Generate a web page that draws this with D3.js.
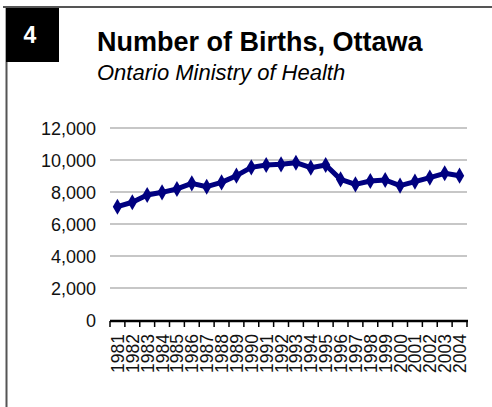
<!DOCTYPE html>
<html><head><meta charset="utf-8">
<script src="https://cdn.jsdelivr.net/npm/d3@7"></script>
<style>body{margin:0;background:#fff}svg{display:block}</style>
</head><body>
<script>
const years = ["1981","1982","1983","1984","1985","1986","1987","1988","1989","1990","1991","1992","1993","1994","1995","1996","1997","1998","1999","2000","2001","2002","2003","2004"];
const births = [7080,7360,7810,7980,8190,8540,8330,8600,9020,9540,9690,9730,9830,9520,9690,8790,8480,8690,8750,8400,8650,8900,9170,9020];
const yTicks = [0,2000,4000,6000,8000,10000,12000];
const title = "Number of Births, Ottawa";
const subtitle = "Ontario Ministry of Health";
const badge = "4";

const W = 492, H = 407;
const svg = d3.select("body").append("svg").attr("width", W).attr("height", H);
const font = "Liberation Sans, Arial, sans-serif";

// frame
svg.append("line").attr("x1",3).attr("x2",W).attr("y1",7).attr("y2",7).attr("stroke","#555").attr("stroke-width",2);
svg.append("line").attr("x1",6.5).attr("x2",6.5).attr("y1",7).attr("y2",H).attr("stroke","#555").attr("stroke-width",2);
svg.append("rect").attr("x",6).attr("y",8).attr("width",53).attr("height",54).attr("fill","#000");
svg.append("text").attr("x",30).attr("y",43).attr("text-anchor","middle").attr("fill","#fff")
  .attr("font-family",font).attr("font-weight","bold").attr("font-size",23).text(badge);
svg.append("text").attr("x",97).attr("y",51).attr("font-family",font).attr("font-weight","bold").attr("font-size",27).text(title);
svg.append("text").attr("x",97).attr("y",80).attr("font-family",font).attr("font-style","italic").attr("font-size",22).text(subtitle);

const x0 = 110, x1 = 467, yTop = 128, yBot = 320;
const x = d3.scaleBand().domain(years).range([x0, x1]).padding(0);
const y = d3.scaleLinear().domain([0, 12000]).range([yBot, yTop]);

// gridlines
svg.append("g").selectAll("line").data(yTicks.filter(d => d > 0)).join("line")
  .attr("x1", x0).attr("x2", x1).attr("y1", d => y(d)).attr("y2", d => y(d))
  .attr("stroke", "#b4b4b4").attr("stroke-width", 1.5);

// y labels
svg.append("g").selectAll("text").data(yTicks).join("text")
  .attr("x", 96).attr("y", d => y(d) + 6.5).attr("text-anchor", "end")
  .attr("font-family", font).attr("font-size", 18).attr("fill","#111")
  .text(d => d3.format(",")(d));

// x axis
const ax = svg.append("g").attr("transform", `translate(0,${yBot+1})`);
ax.append("line").attr("x1", x0).attr("x2", x1+1).attr("stroke","#000").attr("stroke-width",2.5);
const bounds = years.map(d => x(d)).concat([x1]);
ax.selectAll("line.t").data(bounds).join("line").attr("class","t")
  .attr("x1", d => d).attr("x2", d => d).attr("y1", 0).attr("y2", 6)
  .attr("stroke","#000").attr("stroke-width",1.5);
ax.selectAll("text").data(years).join("text")
  .attr("transform", d => `translate(${x(d) + x.bandwidth()/2 + 6.5},13) rotate(-90)`)
  .attr("text-anchor","end").attr("font-family", font).attr("font-size", 17.5).attr("fill","#111")
  .text(d => d);

// line
const pts = years.map((d,i) => [x(d) + x.bandwidth()/2, y(births[i])]);
svg.append("path").attr("d", d3.line()(pts)).attr("fill","none")
  .attr("stroke","#000080").attr("stroke-width",5).attr("stroke-linejoin","round");
svg.append("g").selectAll("path").data(pts).join("path")
  .attr("transform", d => `translate(${d[0]},${d[1]})`)
  .attr("d", d3.symbol().type(d3.symbolDiamond).size(75))
  .attr("fill","#000080");
</script>
</body></html>
